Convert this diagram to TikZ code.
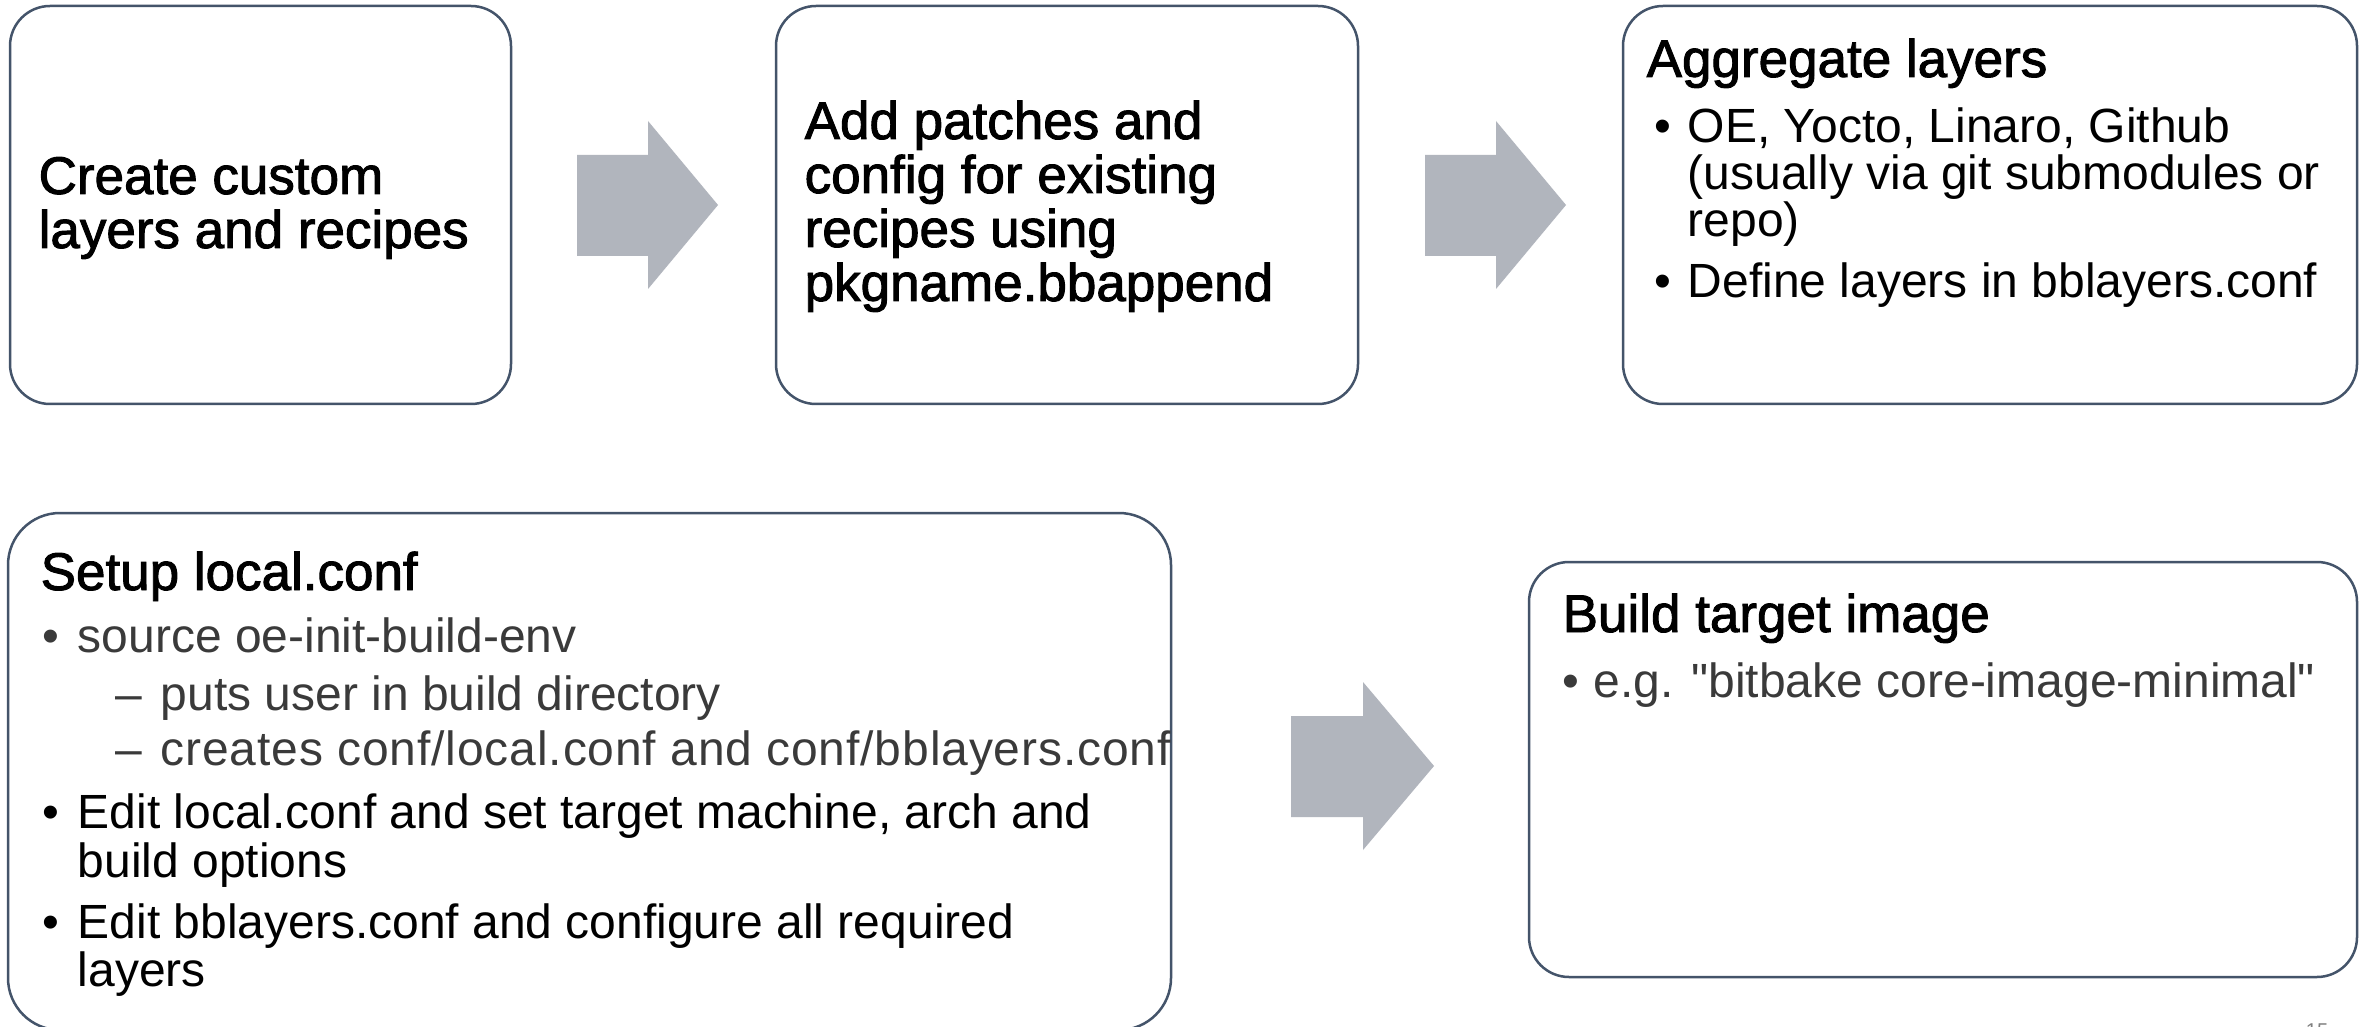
\documentclass[tikz,border=0pt]{standalone}
\usepackage{fontspec}
\setmainfont[Ligatures=TeXOff]{Liberation Sans}
\newfontfamily\heavyfont[FakeBold=1.8]{Liberation Sans}
\usetikzlibrary{fit}
\definecolor{boxc}{HTML}{44546A}
\definecolor{arrowc}{HTML}{B1B5BD}
\definecolor{greytext}{HTML}{3A3A3A}
\begin{document}
\begin{tikzpicture}[x=0.3pt,y=-0.3pt,
  stepbox/.style={draw=boxc, line width=0.75pt, fill=white, inner sep=0pt, rounded corners=12pt},
  bigarrow/.style={fill=arrowc, draw=none},
  ttl/.style={anchor=base west, inner sep=0pt, text=black, font=\heavyfont\fontsize{15.9}{18}\selectfont},
  bul/.style={anchor=base west, inner sep=0pt, text=black, font=\fontsize{14.4}{17}\selectfont},
  gbul/.style={bul, text=greytext},
  pgnum/.style={anchor=north, inner sep=0pt, text=gray, font=\fontsize{6}{7}\selectfont}]
\useasboundingbox (0,0) rectangle (2369,1027);
\clip (0,0) rectangle (2369,1027);
\fill[white] (0,0) rectangle (2369,1027);

% boxes
\node[stepbox, fit={(10,6) (511,404)}] (b1) {};
\node[stepbox, fit={(776,6) (1358,404)}] (b2) {};
\node[stepbox, fit={(1623,6) (2357,404)}] (b3) {};
\node[stepbox, rounded corners=15.6pt, fit={(8,513) (1171,1030)}] (b4) {};
\node[stepbox, fit={(1529,562) (2357,977)}] (b5) {};

% block arrows
\fill[bigarrow] (577,155) -- (648,155) -- (648,121) -- (718,205) -- (648,289) -- (648,256) -- (577,256) -- cycle;
\fill[bigarrow] (1425,155) -- (1496,155) -- (1496,121) -- (1566,205) -- (1496,289) -- (1496,256) -- (1425,256) -- cycle;
\fill[bigarrow] (1291,716) -- (1363,716) -- (1363,682) -- (1434,766) -- (1363,850) -- (1363,817) -- (1291,817) -- cycle;

% box 1
\node[ttl] (t1a) at (38,194) {Create custom};
\node[ttl] (t1b) at (38,248) {layers and recipes};

% box 2
\node[ttl] (t2a) at (804,139) {Add patches and};
\node[ttl] (t2b) at (804,193) {config for existing};
\node[ttl] (t2c) at (804,247) {recipes using};
\node[ttl] (t2d) at (804,301) {pkgname.bbappend};

% box 3
\node[ttl] (t3) at (1646,77) {Aggregate layers};
\node[bul] (d3a) at (1654,143) {•};
\node[bul] (t3a) at (1687,143) {OE, Yocto, Linaro, Github};
\node[bul] (t3b) at (1687,190) {(usually via git submodules or};
\node[bul] (t3c) at (1687,237) {repo)};
\node[bul] (d3b) at (1654,298) {•};
\node[bul] (t3d) at (1687,298) {Define layers in bblayers.conf};

% box 4
\node[ttl] (t4) at (40,590) {Setup local.conf};
\node[gbul] (d4a) at (42,652) {•};
\node[gbul] (t4a) at (77,652) {source oe-init-build-env};
\node[gbul] (s4a) at (115,710) {–};
\node[gbul] (t4b) at (160,710) {puts user in build directory};
\node[gbul] (s4b) at (115,765) {–};
\node[gbul, font=\addfontfeature{LetterSpace=1.8}\fontsize{14.4}{17}\selectfont] (t4c) at (160,765) {creates conf/local.conf and conf/bblayers.conf};
\node[bul] (d4b) at (42,828) {•};
\node[bul] (t4d) at (77,828) {Edit local.conf and set target machine, arch and};
\node[bul] (t4e) at (77,877) {build options};
\node[bul] (d4c) at (42,938) {•};
\node[bul] (t4f) at (77,938) {Edit bblayers.conf and configure all required};
\node[bul] (t4g) at (77,986) {layers};

% box 5
\node[ttl] (t5) at (1562,632) {Build target image};
\node[gbul] (d5a) at (1562,697) {•};
\node[gbul] (t5a) at (1593,697) {e.g. "bitbake core-image-minimal"};

% slide number (cut off at the bottom edge)
\node[pgnum] (pg) at (2317,1023) {15};
\end{tikzpicture}
\end{document}
